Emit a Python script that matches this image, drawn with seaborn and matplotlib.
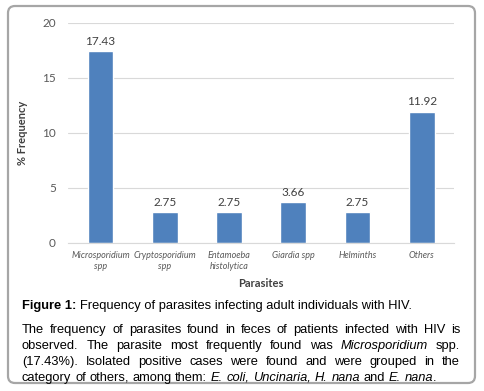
import matplotlib
matplotlib.use("Agg")
import matplotlib.pyplot as plt
import seaborn as sns
from matplotlib.patches import FancyBboxPatch
from matplotlib.transforms import IdentityTransform
from matplotlib.font_manager import FontProperties

# data
parasites = ["Microsporidium\nspp", "Cryptosporidium\nspp", "Entamoeba\nhistolytica",
             "Giardia spp", "Helminths", "Others"]
frequency = [17.43, 2.75, 2.75, 3.66, 2.75, 11.92]

caption_title = "Figure 1:"
caption_rest = "Frequency of parasites infecting adult individuals with HIV."
# paragraph lines, each a list of (text, italic)
paragraph = [
    [("The frequency of parasites found in feces of patients infected with HIV is", False)],
    [("observed. The parasite most frequently found was", False), ("Microsporidium", True), ("spp.", False)],
    [("(17.43%). Isolated positive cases were found and were grouped in the", False)],
    [("category of others, among them:", False), ("E. coli, Uncinaria, H. nana", True),
     ("and", False), ("E. nana", True), (".", False)],
]

W, H = 484, 391
sns.set_style("white")
plt.rcParams["font.family"] = ["Lato", "DejaVu Sans"]

fig = plt.figure(figsize=(W / 100, H / 100), dpi=100)
fig.patch.set_facecolor("white")

# plot area in pixels (from top-left)
left, right, top, bottom = 68.3, 454.0, 22.7, 242.7
ax = fig.add_axes([left / W, (H - bottom) / H, (right - left) / W, (bottom - top) / H])

sns.barplot(x=parasites, y=frequency, color="#4F81BD", width=0.4, ax=ax, saturation=1)
ax.set_ylim(0, 20)
ax.set_xlim(-0.5, len(parasites) - 0.5)
ax.set_yticks([0, 5, 10, 15, 20])
ax.grid(axis="y", color="#D9D9D9", linewidth=0.8)
ax.set_axisbelow(True)
for s in ["top", "right", "left"]:
    ax.spines[s].set_visible(False)
ax.spines["bottom"].set_color("#D9D9D9")
ax.spines["bottom"].set_linewidth(0.8)

ax.tick_params(axis="y", length=0, pad=9, labelsize=8.5, labelcolor="#595959")
ax.tick_params(axis="x", which="major", length=0, pad=6, labelsize=6.5, labelcolor="#595959")
ax.set_xticks([i - 0.5 for i in range(len(parasites) + 1)], minor=True)
ax.tick_params(axis="x", which="minor", length=4, color="#D9D9D9", width=0.8)
for lbl in ax.get_xticklabels():
    lbl.set_fontstyle("italic")
    lbl.set_linespacing(1.35)

ax.bar_label(ax.containers[0], fmt="%.2f", padding=3, fontsize=8.5, color="#404040")

ax.set_xlabel("Parasites", fontsize=8, fontweight="bold", color="#404040", labelpad=5)
ax.set_ylabel("% Frequency", fontsize=8, fontweight="bold", color="#404040", labelpad=10)

# rounded frame around chart and caption
frame = FancyBboxPatch((8, H - 383), 467, 377, boxstyle="round,pad=0,rounding_size=7",
                       transform=IdentityTransform(), facecolor="none",
                       edgecolor="#A6A6A6", linewidth=1.6)
fig.patches.append(frame)

# caption text, placed word by word so the paragraph can be justified
fig.canvas.draw()
renderer = fig.canvas.get_renderer()
cap_font = ["Liberation Sans", "DejaVu Sans"]
cap_size = 9.25


def props(italic=False, bold=False):
    return FontProperties(family=cap_font, size=cap_size,
                          style="italic" if italic else "normal",
                          weight="bold" if bold else "normal")


def width_of(s, italic=False):
    t = fig.text(0, 0, s, fontproperties=props(italic))
    w = t.get_window_extent(renderer).width
    t.remove()
    return w


def put(x, y, s, italic=False, bold=False):
    t = fig.text(x / W, (H - y) / H, s, fontproperties=props(italic, bold),
                 va="baseline", ha="left", color="black")
    return t.get_window_extent(renderer).width


x = 22
x += put(x, 309, caption_title, bold=True)
put(x + 3.5, 309, caption_rest)

x0, x1 = 22, 460
space = width_of("a b") - width_of("ab")

for i, line in enumerate(paragraph):
    y = 333 + i * 16
    words = []
    for chunk, italic in line:
        for w in chunk.split(" "):
            words.append((w, italic))
    widths = [width_of(w, it) for w, it in words]
    # no space before a lone full stop
    gaps = [0 if words[j + 1][0] == "." else 1 for j in range(len(words) - 1)]
    if i == len(paragraph) - 1:
        gap = space
    else:
        gap = (x1 - x0 - sum(widths)) / sum(gaps)
    xx = x0
    for j, (w, it) in enumerate(words):
        put(xx, y, w, italic=it)
        xx += widths[j]
        if j < len(gaps):
            xx += gap * gaps[j]

fig.savefig("out.png", dpi=100)
